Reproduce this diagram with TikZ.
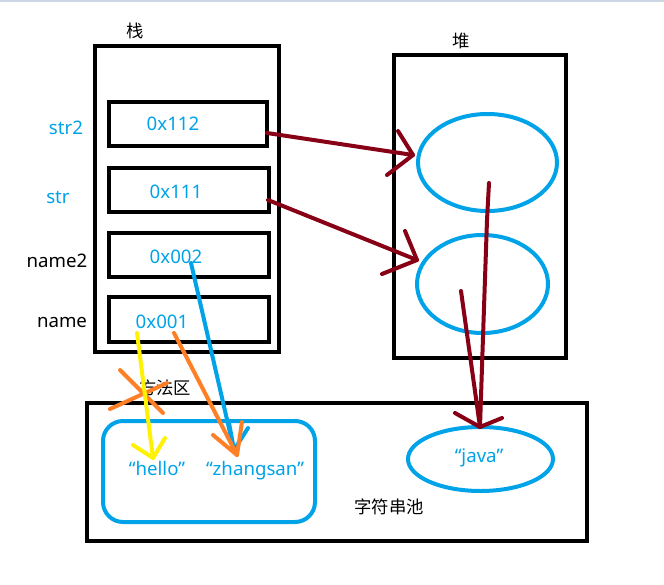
\documentclass[tikz,border=0pt]{standalone}
\usepackage{fontspec}
\setmainfont{Noto Sans}
\newfontfamily\cjk{Noto Sans CJK SC}
\usetikzlibrary{shapes.geometric}
\definecolor{paintblue}{RGB}{0,162,232}
\definecolor{paintred}{RGB}{136,0,21}
\definecolor{paintorange}{RGB}{255,127,39}
\definecolor{paintyellow}{RGB}{255,242,0}
\newcommand{\px}{0.75pt}
\tikzset{
  frame/.style={draw,line width=4.5*\px,inner sep=0pt},
  slot/.style={frame,line width=4*\px,minimum width=160*\px,minimum height=44*\px},
  obj/.style={draw=paintblue,line width=4*\px,ellipse,inner sep=0pt},
  addr/.style={text=paintblue,font=\fontsize{14}{16}\selectfont,anchor=base,inner sep=0pt},
  var/.style={addr,text=black},
  area/.style={font=\cjk\fontsize{13}{15}\selectfont,inner sep=0pt},
  pen/.style={line width=4*\px,line cap=round,line join=round},
}
\begin{document}
\begin{tikzpicture}[x=0.75pt,y=-0.75pt]
\useasboundingbox (0,0) rectangle (664,585);
\draw[color={rgb,255:red,205;green,214;blue,228},line width=2*\px] (0,1) -- (664,1);

% stack
\node[frame,minimum width=184*\px,minimum height=306*\px] (stack) at (187,199) {};
\node[area] (stacklabel) at (135,31) {栈};
\node[slot,minimum width=158*\px] (s112) at (188,124) {};
\node[slot] (s111) at (189,190) {};
\node[slot] (s002) at (189,255) {};
\node[slot,minimum height=45*\px] (s001) at (189,319.5) {};
\node[addr] (t112) at (173,130) {0x112};
\node[addr] (t111) at (176,198) {0x111};
\node[addr] (t002) at (176,263) {0x002};
\node[addr] (t001) at (162,328) {0x001};
\node[addr] (vstr2) at (66,134) {str2};
\node[addr] (vstr) at (58,203) {str};
\node[var] (vname2) at (57,267) {name2};
\node[var] (vname) at (62,327) {name};

% heap
\node[frame,minimum width=172*\px,minimum height=303*\px] (heap) at (480,206.5) {};
\node[area] (heaplabel) at (461,41) {堆};
\node[obj,minimum width=139*\px,minimum height=97*\px] (h1) at (487.5,162.5) {};
\node[obj,minimum width=131*\px,minimum height=98*\px] (h2) at (482.5,284) {};

% method area
\node[frame,minimum width=500*\px,minimum height=138*\px] (method) at (337,472) {};
\node[area] (methodlabel) at (165,388) {方法区};
\node[draw=paintblue,line width=4*\px,rounded corners=15pt,minimum width=212*\px,minimum height=101*\px] (pool) at (209,471.5) {};
\node[addr] (hello) at (157,475) {“hello”};
\node[addr] (zhangsan) at (255,475) {“zhangsan”};
\node[obj,minimum width=145*\px,minimum height=64*\px] (javaobj) at (480.5,459) {};
\node[addr] (java) at (479,462) {“java”};
\node[area] (poollabel) at (389,507) {字符串池};

% references
\coordinate (a1) at (267,133); \coordinate (b1) at (413,155);
\coordinate (a2) at (268,200); \coordinate (b2) at (417,260);
\coordinate (a3) at (489,183); \coordinate (a4) at (461,291); \coordinate (b3) at (480,427);
\coordinate (a5) at (191,263); \coordinate (b5) at (234,450);
\coordinate (a6) at (174,333); \coordinate (b6) at (237,455);
\coordinate (a7) at (137,333); \coordinate (b7) at (153,458);

\draw[pen,paintred] (a1) -- (b1);
\draw[pen,paintred] (b1) ++(-15,-24) -- (b1) -- ++(-26,20);
\draw[pen,paintred] (a2) -- (b2);
\draw[pen,paintred] (b2) ++(-12,-29) -- (b2) -- ++(-35,14);
\draw[pen,paintred] (a3) -- (487,220) -- (483,337) -- (b3);
\draw[pen,paintred] (a4) -- (b3);
\draw[pen,paintred] (b3) ++(-25,-14) -- (b3) -- ++(22,-9);

\draw[pen,paintorange] (120,370) -- (163,413);
\draw[pen,paintorange] (110,409) -- (167,383);
\draw[pen,paintblue] (a5) -- (b5);
\draw[pen,paintblue] (b5) ++(-5,-27) -- (b5) -- ++(14,-22);
\draw[pen,paintorange] (a6) -- (b6);
\draw[pen,paintorange] (b6) ++(-24,-20) -- (b6) -- ++(5,-33);
\draw[pen,paintyellow] (a7) -- (b7);
\draw[pen,paintyellow] (b7) ++(-20,-13) -- (b7) -- ++(12,-20);
\end{tikzpicture}
\end{document}
